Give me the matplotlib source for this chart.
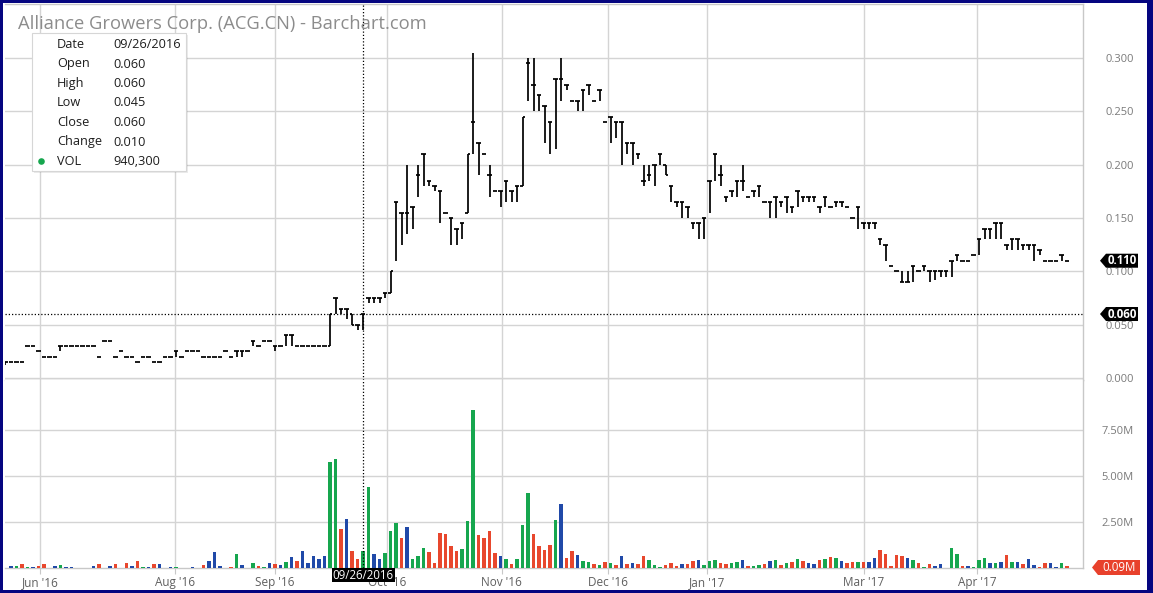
import matplotlib
matplotlib.use("Agg")
import matplotlib.pyplot as plt
from matplotlib.patches import Rectangle, Polygon, Circle
import numpy as np

plt.rcParams['font.family'] = ['Open Sans', 'DejaVu Sans']

# ---------------- data ----------------
title = "Alliance Growers Corp. (ACG.CN) - Barchart.com"

month_labels = ["Jun '16", "Aug '16", "Sep '16", "Oct '16", "Nov '16",
                "Dec '16", "Jan '17", "Mar '17", "Apr '17"]
month_pos = [6.33, 30.9, 49.0, 69.4, 90.2, 109.6, 127.6, 156.1, 176.6]

opens = [
    .012, .015, .015, .015, .030, .030, .025, .020, .020, .020,
    .030, .030, .030, .030, .030, .030, .030, .020, .035, .035,
    .020, .025, .020, .020, .015, .020, .020, .015, .015, .020,
    .020, .025, .020, .025, .025, .025, .020, .020, .020, .020,
    .025, .020, .025, .025, .025, .035, .030, .035, .035, .030,
    .030, .040, .040, .030, .030, .030, .030, .030, .030, .030,
    .075, .065, .065, .060, .050, .060, .075, .075, .075, .080,
    .080, .165, .155, .155, .160, .190, .210, .185, .180, .175,
    .155, .150, .140, .145, .155, .240, .220, .210, .190, .175,
    .175, .185, .175, .180, .180, .295, .275, .265, .255, .240,
    .280, .280, .275, .260, .260, .270, .275, .260, .270, .240,
    .245, .240, .240, .220, .220, .210, .185, .190, .200, .210,
    .200, .180, .165, .165, .160, .145, .145, .150, .185, .210,
    .190, .170, .175, .185, .185, .170, .175, .180, .165, .165,
    .170, .165, .170, .160, .175, .170, .170, .170, .160, .170,
    .160, .165, .165, .160, .150, .160, .145, .145, .145, .130,
    .125, .105, .100, .090, .090, .105, .100, .105, .100, .100,
    .100, .100, .110, .115, .110, .110, .115, .130, .140, .140,
    .145, .145, .125, .130, .130, .125, .125, .125, .120, .110,
    .110, .110, .115, .110]

highs = [
    .015, .015, .015, .015, .030, .030, .025, .020, .020, .020,
    .030, .030, .030, .030, .030, .030, .030, .020, .035, .035,
    .020, .025, .020, .020, .015, .020, .020, .015, .015, .020,
    .020, .025, .020, .025, .025, .025, .020, .020, .020, .020,
    .025, .020, .025, .025, .025, .035, .030, .035, .035, .030,
    .030, .040, .040, .030, .030, .030, .030, .030, .030, .060,
    .075, .065, .065, .060, .050, .060, .075, .075, .075, .080,
    .100, .165, .155, .200, .160, .200, .210, .185, .180, .175,
    .155, .150, .140, .145, .210, .305, .220, .210, .200, .175,
    .175, .185, .175, .180, .245, .300, .300, .265, .255, .240,
    .280, .300, .275, .260, .260, .270, .275, .260, .270, .240,
    .245, .240, .240, .220, .220, .210, .200, .200, .200, .210,
    .200, .180, .165, .165, .160, .145, .145, .150, .185, .210,
    .200, .170, .175, .185, .200, .170, .175, .180, .165, .165,
    .170, .165, .170, .160, .175, .170, .170, .170, .160, .170,
    .160, .165, .165, .160, .150, .160, .145, .145, .145, .130,
    .125, .105, .100, .100, .100, .105, .100, .105, .100, .100,
    .100, .100, .110, .115, .110, .110, .115, .130, .140, .140,
    .145, .145, .125, .130, .130, .125, .125, .125, .120, .110,
    .110, .110, .115, .110]

lows = [
    .012, .015, .015, .015, .030, .030, .025, .020, .020, .020,
    .025, .030, .030, .030, .030, .030, .030, .020, .035, .035,
    .020, .025, .020, .020, .015, .020, .020, .015, .015, .020,
    .020, .020, .020, .025, .025, .025, .020, .020, .020, .020,
    .025, .020, .020, .020, .025, .030, .030, .035, .035, .025,
    .030, .030, .030, .030, .030, .030, .030, .030, .030, .030,
    .060, .060, .055, .050, .045, .045, .070, .070, .070, .075,
    .080, .110, .125, .135, .140, .170, .180, .180, .175, .145,
    .155, .125, .125, .130, .155, .210, .190, .210, .170, .175,
    .160, .165, .165, .165, .180, .260, .250, .250, .220, .210,
    .215, .260, .270, .260, .250, .250, .265, .260, .260, .240,
    .220, .225, .200, .210, .200, .205, .180, .185, .180, .200,
    .190, .165, .160, .150, .150, .140, .130, .130, .155, .185,
    .180, .165, .170, .170, .175, .170, .170, .170, .165, .150,
    .150, .160, .155, .155, .160, .165, .165, .165, .155, .160,
    .160, .160, .160, .160, .150, .140, .140, .140, .140, .125,
    .110, .105, .100, .090, .090, .090, .100, .100, .090, .092,
    .095, .095, .095, .110, .110, .110, .115, .115, .130, .130,
    .130, .130, .120, .120, .120, .120, .120, .110, .115, .110,
    .110, .110, .110, .110]

closes = [
    .015, .015, .015, .015, .030, .030, .025, .020, .020, .020,
    .030, .030, .030, .030, .030, .030, .030, .020, .035, .035,
    .020, .025, .020, .020, .015, .020, .020, .015, .015, .020,
    .020, .025, .020, .025, .025, .025, .020, .020, .020, .020,
    .025, .020, .025, .025, .025, .035, .030, .035, .035, .030,
    .030, .040, .040, .030, .030, .030, .030, .030, .030, .060,
    .075, .065, .065, .050, .050, .060, .075, .075, .075, .080,
    .100, .165, .155, .155, .160, .190, .210, .185, .180, .175,
    .155, .150, .140, .145, .210, .240, .220, .210, .190, .175,
    .175, .185, .175, .180, .245, .295, .275, .265, .255, .240,
    .280, .280, .275, .260, .260, .270, .275, .260, .270, .240,
    .245, .240, .240, .220, .220, .210, .185, .190, .200, .210,
    .190, .180, .165, .165, .160, .145, .145, .150, .185, .210,
    .190, .170, .175, .185, .185, .170, .175, .180, .165, .165,
    .170, .165, .170, .160, .175, .170, .170, .170, .160, .170,
    .160, .165, .165, .160, .150, .160, .145, .145, .145, .130,
    .125, .105, .100, .090, .090, .105, .100, .105, .100, .100,
    .100, .100, .110, .115, .110, .110, .115, .130, .140, .140,
    .145, .145, .125, .130, .130, .125, .125, .125, .120, .110,
    .110, .110, .115, .110]

volume_m = [
    0, .13, .13, .24, .07, .07, .13, .24, 0, .13,
    .18, .07, .07, 0, 0, 0, .13, .24, 0, .13,
    .24, 0, .29, .13, .40, .07, .07, .24, .24, 0,
    .07, .07, 0, 0, .07, 0, .18, .40, .89, .13,
    0, .07, .78, .18, 0, .29, .13, .07, .29, .24,
    .18, .34, .62, .40, .94, .29, .67, .51, .67, 5.76,
    5.92, 2.14, 2.68, .94, .51, .9403, 4.40, .78, .51, .83,
    2.03, 2.46, 1.65, 2.25, .51, .67, 1.10, .89, .29, 1.92,
    1.87, 1.21, .94, 1.05, 2.57, 8.59, 1.81, 1.65, 2.03, .83,
    .67, .51, .24, .51, 2.36, 4.06, 1.83, 1.21, 1.00, 1.27,
    2.63, 3.50, .56, .94, .72, .40, .34, .24, .18, .34,
    .29, .18, .67, .24, .29, .24, .67, .45, .18, .07,
    .18, .29, .13, .24, .24, .40, .45, .18, .40, .45,
    .29, .24, .29, .34, .45, .13, .13, .18, .24, .40,
    .45, .18, .29, .34, .51, .40, .29, .24, .45, .51,
    .62, .56, .40, .29, .34, .34, .34, .34, .56, 1.00,
    .78, .13, .72, .67, .56, .45, .29, .07, .24, .13,
    .24, 0, 1.10, .78, .13, .13, .07, .45, .56, .29,
    .29, .34, .72, .34, .34, .24, .51, .18, .07, .29,
    .29, .07, .29, .09]

vol_dir = ("-bgrgbrr-b" "gbb---br-b" "r-rbrgbrb-" "bg--b-rbbb" "-rgb-grgbr"
           "bgbrbbbbbg" "grbrrggbbg" "ggrbgggrrr" "rrrgggrrrr" "bgrgggrrrr"
           "gbrrbggrgr" "grbrbrrggg" "rrrbrrbggg" "rrggbrggrb" "grgrgrbbrg"
           "rgbrrgrbbr" "rrrrbgrgrb" "b-ggrbgggb" "gbrgbrbbrr" "bbgr")

selected_idx = 65
selected_date = "09/26/2016"

# ---------------- style ----------------
W, HP = 1153, 593
GRID = '#d4d4d4'
LBL = '#7a7a7a'
col_map = {'g': '#16a64e', 'r': '#e8472d', 'b': '#2049a8', '-': '#ffffff'}

fig = plt.figure(figsize=(W / 100, HP / 100), dpi=100)
fig.patch.set_facecolor('white')

L_, R_ = 5, 1083
T_, MID, B_ = 4, 380, 568
axp = fig.add_axes([L_ / W, 1 - MID / HP, (R_ - L_) / W, (MID - T_) / HP])
axv = fig.add_axes([L_ / W, 1 - B_ / HP, (R_ - L_) / W, (B_ - MID) / HP])

n = len(closes)
idx = np.arange(n)
xlim = (-0.09, 195.9)

# price panel
axp.set_xlim(*xlim)
axp.set_ylim(-0.0019, 0.3508)
axp.vlines(idx, lows, highs, color='black', lw=1.25, zorder=3)
axp.hlines(opens, idx - 0.38, idx, color='black', lw=1.25, zorder=3)
axp.hlines(closes, idx, idx + 0.38, color='black', lw=1.25, zorder=3)

# volume panel
axv.set_xlim(*xlim)
axv.set_ylim(0, 10.22)
axv.bar(idx, volume_m, width=0.68, color=[col_map[c] for c in vol_dir],
        zorder=3, linewidth=0)

for ax in (axp, axv):
    ax.set_xticks(month_pos)
    ax.grid(True, color=GRID, lw=1, zorder=0)
    ax.set_axisbelow(True)
    ax.yaxis.tick_right()
    ax.tick_params(axis='y', length=0, pad=36.5, labelsize=8, labelcolor=LBL)
    ax.spines['left'].set_visible(False)
    for s in ('top', 'right', 'bottom'):
        ax.spines[s].set_color('#c8c8c8')
        ax.spines[s].set_linewidth(1)

axp.set_yticks([0, 0.05, 0.10, 0.15, 0.20, 0.25, 0.30])
axp.set_yticklabels([f"{v:.3f}" for v in axp.get_yticks()])
axp.tick_params(axis='x', length=0, labelbottom=False)

axv.spines['top'].set_visible(False)
axv.set_yticks([2.5, 5.0, 7.5])
axv.set_yticklabels([f"{v:.2f}M" for v in axv.get_yticks()])
axv.set_xticklabels(month_labels)
axv.tick_params(axis='x', length=4, color='#c8c8c8', pad=1.5, labelsize=8.5,
                labelcolor='#5f5f5f')
for ax in (axp, axv):
    for lab in ax.get_yticklabels():
        lab.set_ha('right')

# crosshair
axp.axhline(closes[selected_idx], color='black', lw=0.9, ls=(0, (1, 1.6)), zorder=4)
axp.axvline(selected_idx, color='black', lw=0.9, ls=(0, (1, 1.6)), zorder=4)
axv.axvline(selected_idx, color='black', lw=0.9, ls=(0, (1, 1.6)), zorder=4)

# ---------------- overlay (pixel coords) ----------------
ov = fig.add_axes([0, 0, 1, 1], zorder=10)
ov.set_xlim(0, W)
ov.set_ylim(HP, 0)
ov.axis('off')
ov.patch.set_alpha(0)


def py_of(ax, val):
    return HP - ax.transData.transform((0, val))[1]


def px_of(ax, xval):
    return ax.transData.transform((xval, 0))[0]


def badge(yc, text, color, x0=1100, x1=1138, h=14, bold=True):
    pts = [(x0, yc), (x0 + 6, yc - h / 2), (x1, yc - h / 2),
           (x1, yc + h / 2), (x0 + 6, yc + h / 2)]
    ov.add_patch(Polygon(pts, closed=True, facecolor=color, edgecolor='none'))
    ov.text((x0 + 6 + x1) / 2 + 0.5, yc, text, color='white', fontsize=8.3,
            ha='center', va='center', fontweight='bold' if bold else 'normal')


badge(py_of(axp, closes[-1]), f"{closes[-1]:.3f}", 'black')
badge(py_of(axp, closes[selected_idx]), f"{closes[selected_idx]:.3f}", 'black')
badge(py_of(axv, 0) - 0.5, f"{volume_m[-1]:.2f}M", '#e8412c', x0=1092, x1=1140,
      h=15, bold=False)

# date badge under crosshair
xc = px_of(axv, selected_idx)
ov.add_patch(Rectangle((xc - 31.5, 568), 63, 14, facecolor='black', edgecolor='none'))
ov.text(xc, 575.3, selected_date, color='white', fontsize=8.3, ha='center', va='center')

# title
ov.text(18, 24, title, color='#8c8c8c', fontsize=13.2, ha='left', va='center')

# tooltip
ov.add_patch(Rectangle((34, 35), 154, 138, facecolor='#000000', alpha=0.08,
                       edgecolor='none'))
ov.add_patch(Rectangle((32, 33), 154, 138, facecolor='white', edgecolor='#d6d6d6',
                       lw=0.8))
sel_change = closes[selected_idx] - closes[selected_idx - 1]
rows = [("Date", selected_date),
        ("Open", f"{opens[selected_idx]:.3f}"),
        ("High", f"{highs[selected_idx]:.3f}"),
        ("Low", f"{lows[selected_idx]:.3f}"),
        ("Close", f"{closes[selected_idx]:.3f}"),
        ("Change", f"{sel_change:.3f}"),
        ("VOL", f"{volume_m[selected_idx] * 1e6:,.0f}")]
row_y = [44.5, 64, 83.5, 103, 122.5, 142, 161.5]
for (k, v), yy in zip(rows, row_y):
    ov.text(57, yy, k, fontsize=9.2, color='#1e1e1e', ha='left', va='center')
    ov.text(113, yy, v, fontsize=9.2, color='#1e1e1e', ha='left', va='center')
ov.add_patch(Circle((41.5, 161.5), 3.3, facecolor=col_map[vol_dir[selected_idx]],
                    edgecolor='none'))

# outer navy frame
NAVY = '#050580'
ov.add_patch(Rectangle((0, 0), W, 3, facecolor=NAVY, edgecolor='none'))
ov.add_patch(Rectangle((0, HP - 3), W, 3, facecolor=NAVY, edgecolor='none'))
ov.add_patch(Rectangle((0, 0), 2.5, HP, facecolor=NAVY, edgecolor='none'))
ov.add_patch(Rectangle((W - 6, 0), 6, HP, facecolor=NAVY, edgecolor='none'))

fig.savefig('out.png', dpi=100, facecolor='white')
